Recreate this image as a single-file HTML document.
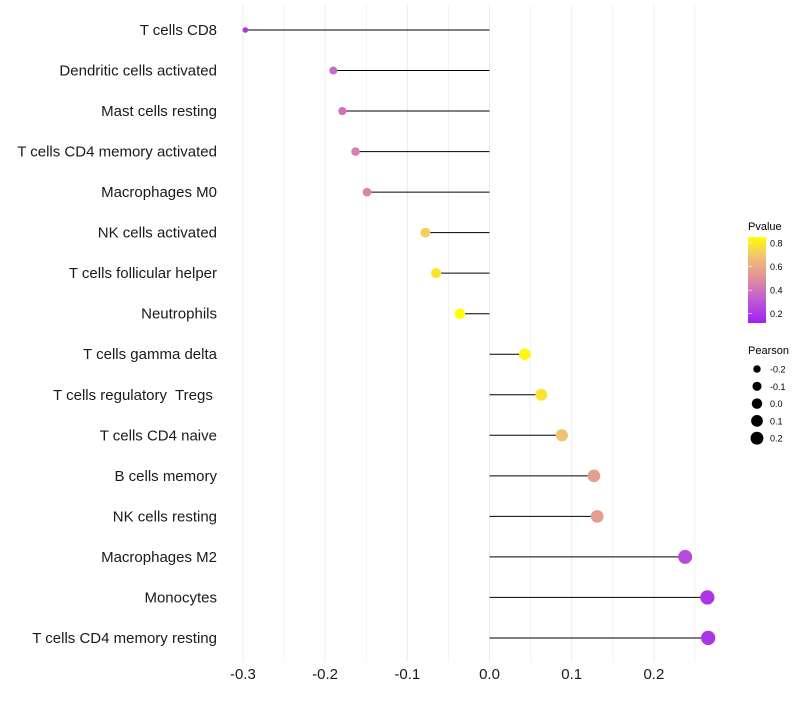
<!DOCTYPE html>
<html><head><meta charset="utf-8"><style>
body{margin:0;background:#fff;font-family:"Liberation Sans",sans-serif}
svg text{font-family:"Liberation Sans",sans-serif;white-space:pre}
</style></head><body>
<svg id="chart" width="800" height="700" xmlns="http://www.w3.org/2000/svg">
<g id="grid"></g>
<g id="ylabels"></g>
<g id="xlabels"></g>
<g id="marks"></g>
<g id="legend">
<defs><linearGradient id="pg" x1="0" y1="1" x2="0" y2="0">
<stop offset="0" stop-color="#a020f0"/><stop offset="0.3" stop-color="#c460d0"/><stop offset="0.52" stop-color="#e0909a"/><stop offset="0.78" stop-color="#f2c470"/><stop offset="1" stop-color="#ffff00"/></linearGradient></defs>
<text x="748" y="230" font-size="11">Pvalue</text>
<rect x="748" y="237" width="18" height="86" fill="url(#pg)"/>
<text x="748" y="354" font-size="11">Pearson</text>
</g>
</svg>
<script>
const categories=["T cells CD8","Dendritic cells activated","Mast cells resting","T cells CD4 memory activated","Macrophages M0","NK cells activated","T cells follicular helper","Neutrophils","T cells gamma delta","T cells regulatory  Tregs ","T cells CD4 naive","B cells memory","NK cells resting","Macrophages M2","Monocytes","T cells CD4 memory resting"];
const pearson=[-0.297,-0.190,-0.179,-0.163,-0.149,-0.078,-0.065,-0.036,0.043,0.063,0.088,0.127,0.131,0.238,0.265,0.266];
const pvalue=[0.2,0.38,0.4,0.45,0.47,0.72,0.78,0.85,0.83,0.78,0.68,0.56,0.55,0.27,0.2,0.2];
const xTicks=[-0.3,-0.2,-0.1,0.0,0.1,0.2];
const xTickLabels=["-0.3","-0.2","-0.1","0.0","0.1","0.2"];
const pTicks=[0.2,0.4,0.6,0.8];
const sizeTicks=[-0.2,-0.1,0.0,0.1,0.2];
const NS="http://www.w3.org/2000/svg";
function X(v){return 489.5+v*822;}
function Y(i){return 30+i*40.53;}
function R(v){return Math.sqrt(Math.max(4,30.6+76.7*v));}
function PY(p){return 322-(p-0.13)/0.72*85;}
const stops=[[0,[160,32,240]],[0.3,[196,96,208]],[0.52,[224,144,154]],[0.78,[242,196,112]],[1,[255,255,0]]];
function col(p){let t=Math.max(0,Math.min(1,(p-0.13)/0.72));
for(let i=1;i<stops.length;i++){if(t<=stops[i][0]){const a=stops[i-1],b=stops[i];const u=(t-a[0])/(b[0]-a[0]);
return 'rgb('+a[1].map((c,k)=>Math.round(c+(b[1][k]-c)*u)).join(',')+')';}}return 'rgb(255,255,0)';}
function el(t,a,p){const e=document.createElementNS(NS,t);for(const k in a)e.setAttribute(k,a[k]);p.appendChild(e);return e;}
const grid=document.getElementById('grid'),yl=document.getElementById('ylabels'),xl=document.getElementById('xlabels'),mk=document.getElementById('marks'),lg=document.getElementById('legend');
for(let k=0;k<12;k++){const v=-0.3+k*0.05;const l=el('line',{x1:X(v),x2:X(v),y1:5,y2:662,stroke:'#ebebeb','stroke-width':k%2===0?1:0.6},grid);
}
xTicks.forEach((v,i)=>{const t=el('text',{x:X(v),y:679,'font-size':15,'text-anchor':'middle',fill:'#1a1a1a'},xl);t.textContent=xTickLabels[i];
});
categories.forEach((c,i)=>{const t=el('text',{x:217,y:Y(i)+5,'font-size':15,'text-anchor':'end',fill:'#1a1a1a'},yl);t.textContent=c;

const ln=el('line',{x1:X(0),x2:X(pearson[i]),y1:Y(i),y2:Y(i),stroke:'#000','stroke-width':1},mk);

const ci=el('circle',{cx:X(pearson[i]),cy:Y(i),r:R(pearson[i]),fill:col(pvalue[i])},mk);
});
pTicks.forEach(p=>{const t=el('text',{x:770,y:PY(p)+3.5,'font-size':9},lg);t.textContent=p.toFixed(1);

const tk=el('line',{x1:748,x2:752,y1:PY(p),y2:PY(p),stroke:'#fff','stroke-width':0.6},lg);});
sizeTicks.forEach((v,i)=>{const y=369+i*17.3;const c=el('circle',{cx:757,cy:y,r:R(v)*0.95,fill:'#000'},lg);

const t=el('text',{x:770,y:y+3.5,'font-size':9},lg);t.textContent=v.toFixed(1);
});
</script>
</body></html>
